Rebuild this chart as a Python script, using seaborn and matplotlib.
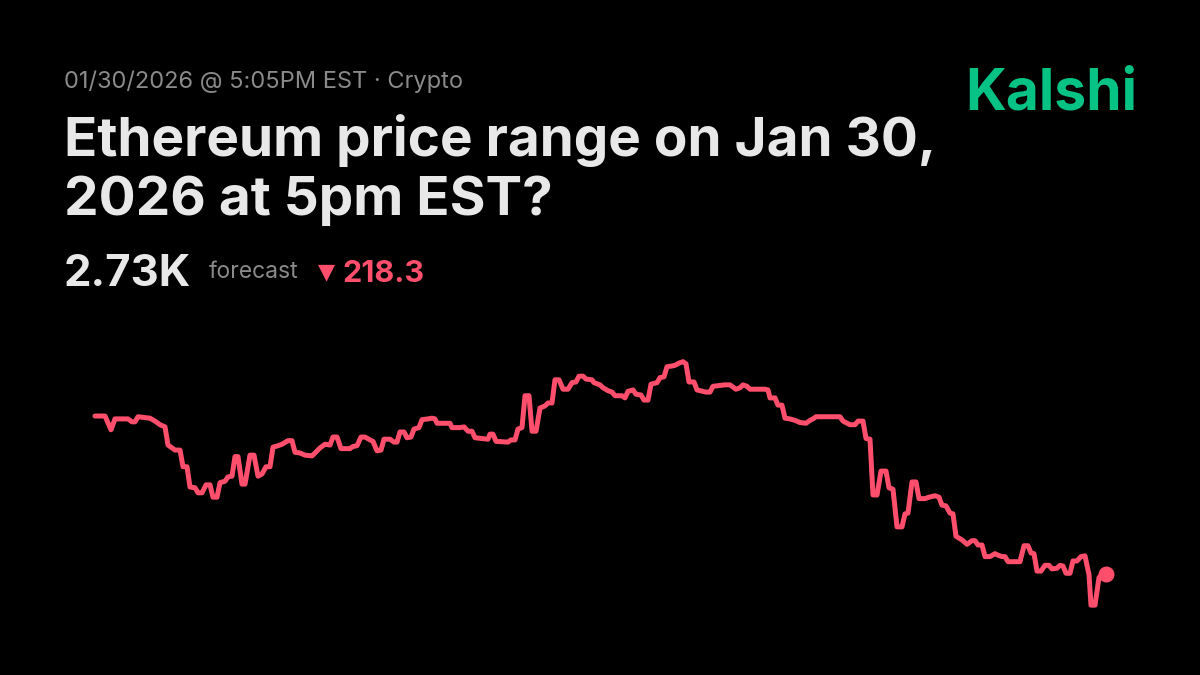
import pandas as pd
import matplotlib.pyplot as plt
import seaborn as sns

# minutes since the start of the window, and the forecast price
minutes = [0, 10, 16, 20, 33, 37, 40, 43, 55, 60, 65, 70, 73, 80, 85, 88, 92, 95, 100, 103,
           107, 111, 115, 118, 122, 125, 130, 133, 137, 140, 143, 147, 150, 155, 159, 163, 167, 171, 175, 178,
           183, 187, 193, 197, 200, 205, 210, 217, 220, 225, 230, 235, 238, 242, 246, 255, 258, 262, 266, 270,
           275, 278, 282, 286, 289, 295, 299, 302, 305, 309, 312, 316, 319, 324, 327, 333, 337, 340, 342, 355,
           357, 365, 369, 373, 377, 380, 393, 395, 398, 401, 413, 416, 420, 423, 427, 430, 434, 437, 441, 445,
           450, 453, 457, 460, 464, 468, 473, 477, 481, 484, 488, 491, 497, 499, 505, 508, 513, 517, 520, 527,
           530, 533, 538, 541, 546, 549, 553, 556, 562, 565, 569, 572, 577, 580, 584, 588, 591, 594, 599, 602,
           608, 611, 615, 618, 630, 635, 638, 641, 645, 648, 652, 655, 670, 673, 675, 680, 683, 687, 690, 695,
           700, 705, 711, 715, 718, 721, 745, 748, 755, 760, 763, 768, 771, 775, 778, 782, 786, 791, 794, 798,
           802, 807, 810, 813, 817, 821, 824, 830, 834, 840, 844, 847, 851, 855, 858, 861, 867, 872, 877, 880,
           883, 887, 890, 895, 900, 903, 907, 910, 913, 925, 929, 933, 936, 939, 942, 946, 950, 954, 957, 962,
           965, 968, 971, 975, 978, 982, 986, 990, 994, 996, 1000, 1004, 1007, 1011]
price = [2948, 2948, 2929, 2944, 2944, 2940, 2940, 2947, 2945, 2941, 2936, 2933, 2908, 2901, 2901, 2878, 2878, 2850, 2849, 2842,
         2842, 2853, 2853, 2836, 2836, 2856, 2858, 2864, 2865, 2892, 2892, 2854, 2854, 2894, 2894, 2865, 2868, 2878, 2878, 2905,
         2907, 2909, 2914, 2914, 2898, 2897, 2894, 2893, 2897, 2904, 2909, 2908, 2919, 2919, 2903, 2903, 2906, 2907, 2919, 2919,
         2915, 2913, 2900, 2901, 2916, 2916, 2912, 2912, 2926, 2926, 2918, 2919, 2930, 2932, 2943, 2944, 2945, 2944, 2938, 2938,
         2932, 2932, 2933, 2927, 2927, 2918, 2916, 2923, 2923, 2913, 2912, 2915, 2915, 2930, 2932, 2976, 2976, 2927, 2927, 2959,
         2962, 2966, 2966, 2998, 2998, 2985, 2985, 2994, 2995, 3003, 3003, 2999, 2998, 2994, 2991, 2987, 2983, 2981, 2976, 2976,
         2973, 2982, 2984, 2978, 2977, 2970, 2970, 2992, 2994, 3001, 3002, 3016, 3017, 3018, 3021, 3023, 3020, 2995, 2995, 2984,
         2982, 2981, 2981, 2989, 2991, 2991, 2988, 2985, 2987, 2991, 2989, 2985, 2985, 2984, 2973, 2973, 2963, 2963, 2945, 2944,
         2942, 2939, 2938, 2942, 2944, 2947, 2947, 2941, 2936, 2936, 2941, 2941, 2917, 2916, 2839, 2839, 2872, 2872, 2849, 2847,
         2795, 2795, 2813, 2814, 2857, 2857, 2834, 2834, 2836, 2838, 2836, 2825, 2824, 2814, 2813, 2782, 2777, 2771, 2776, 2776,
         2770, 2770, 2754, 2754, 2758, 2756, 2754, 2754, 2747, 2747, 2769, 2769, 2759, 2758, 2734, 2734, 2742, 2742, 2737, 2738,
         2742, 2741, 2731, 2731, 2748, 2748, 2754, 2755, 2729, 2687, 2687, 2725, 2729, 2730]

date_text = "01/30/2026 @ 5:05PM EST · Crypto"
title_lines = ["Ethereum price range on Jan 30,", "2026 at 5pm EST?"]
forecast_value = "2.73K"
change_value = "218.3"

RED = "#FF4F6D"
GREEN = "#07C285"
W, H = 1200, 675

df = pd.DataFrame({"minute": minutes, "price": price})

sns.set_style("dark", {"axes.facecolor": "black", "figure.facecolor": "black"})
plt.rcParams["font.family"] = ["Inter", "DejaVu Sans"]

fig = plt.figure(figsize=(12, 6.75), dpi=100)
ax = fig.add_axes([95 / W, (H - 620) / H, (1106 - 95) / W, 270 / H])
sns.lineplot(data=df, x="minute", y="price", ax=ax, color=RED, linewidth=3.6,
             solid_joinstyle="round", solid_capstyle="round", clip_on=False)
ax.scatter([minutes[-1]], [price[-1]], s=110, color=RED, zorder=5, clip_on=False)
ax.set_xlim(0, 1011)
ax.set_ylim(2666.5, 3039.1)
ax.axis("off")


def fy(py):
    return (H - py) / H


fig.text(64 / W, fy(88), date_text, color="#8A8A8A", fontsize=17, va="baseline")
fig.text(64 / W, fy(156), title_lines[0], color="#E8E8E8", fontsize=39.5, fontweight="bold", va="baseline")
fig.text(64 / W, fy(215), title_lines[1], color="#E8E8E8", fontsize=39.5, fontweight="bold", va="baseline")
fig.text(64 / W, fy(286), forecast_value, color="#E8E8E8", fontsize=31.5, fontweight="bold", va="baseline")
fig.text(209 / W, fy(278), "forecast", color="#8A8A8A", fontsize=16.5, va="baseline")
fig.text(318 / W, fy(278), "▼", color=RED, fontsize=16, va="baseline", family=["DejaVu Sans"])
fig.text(342 / W, fy(282), change_value, color=RED, fontsize=22, fontweight="bold", va="baseline")
fig.text(1137 / W, fy(110), "Kalshi", color=GREEN, fontsize=41, fontweight="bold", va="baseline", ha="right")

plt.savefig("out.png", dpi=100, facecolor="black")
